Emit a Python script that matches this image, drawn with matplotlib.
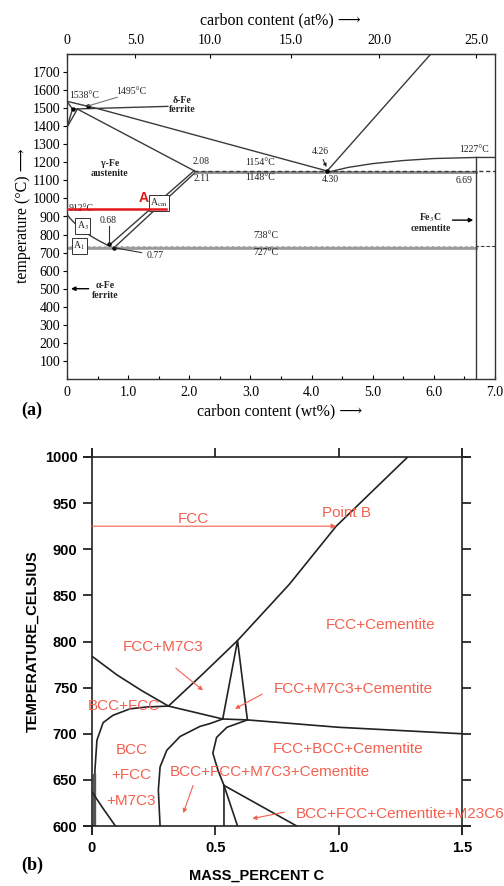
import numpy as np
import matplotlib
matplotlib.use("Agg")
import matplotlib.pyplot as plt

# ---------------- (a) Fe–C phase diagram (wt% C, °C) ----------------
liquidus_wt = [0.0, 0.53, 4.30]
liquidus_T = [1538, 1495, 1148]
solidus_wt = [0.17, 2.11]
solidus_T = [1495, 1148]
delta_sol_wt = [0.0, 0.09]
delta_sol_T = [1538, 1495]
delta_gam_wt = [0.0, 0.09]
delta_gam_T = [1394, 1495]
gam_delta_wt = [0.0, 0.17]
gam_delta_T = [1394, 1495]
peritectic_wt = [0.09, 1.65]
peritectic_T = [1495, 1510]
a3_wt = [0.0, 0.05, 0.1, 0.2, 0.3, 0.4, 0.5, 0.6, 0.68, 0.77]
a3_T = [912, 890, 872, 840, 812, 790, 770, 752, 738, 727]
acm_wt = [2.11, 0.77]
acm_T = [1148, 727]
acm_gr_wt = [2.08, 0.68]
acm_gr_T = [1154, 738]
eutectic_wt = [2.11, 6.69]
eutectic_T = 1148
eutectic_gr_wt = [2.08, 7.0]
eutectic_gr_T = 1154
eutectoid_wt = [0.0, 6.69]
eutectoid_T = 727
eutectoid_gr_wt = [0.0, 7.0]
eutectoid_gr_T = 738
graphite_liq_wt = [4.26, 5.95]
graphite_liq_T = [1154, 1800]
cem_liq_wt = [4.30, 4.6, 5.0, 5.5, 6.0, 6.69, 7.0]
cem_liq_T = [1148, 1172, 1193, 1210, 1221, 1227, 1227]
cementite_wt = 6.69
cementite_T = [0, 1227]
red_line_wt = [0.0, 1.62]
red_line_T = 940

wt_ticks = [0, 1, 2, 3, 4, 5, 6, 7]
wt_labels = ["0", "1.0", "2.0", "3.0", "4.0", "5.0", "6.0", "7.0"]
at_ticks = [0, 5, 10, 15, 20, 25]
at_labels = ["0", "5.0", "10.0", "15.0", "20.0", "25.0"]
T_ticks_a = list(range(100, 1800, 100))

# ---------------- (b) calculated section (mass% C, °C) ----------------
fcc_cem_x = [0.31, 0.45, 0.59, 0.80, 0.99, 1.28]
fcc_cem_T = [730, 765, 801, 862, 925, 1000]
a3b_x = [0.0, 0.1, 0.2, 0.31, 0.53]
a3b_T = [784, 764, 747, 730, 716]
eutectoid_b_x = [0.53, 0.63, 1.0, 1.5]
eutectoid_b_T = [716, 715, 707, 700]
triangle_x = [0.53, 0.59, 0.63]
triangle_T = [716, 801, 715]
bcc_fcc_x = [0.01, 0.01, 0.012, 0.02, 0.045, 0.085, 0.154, 0.22, 0.31]
bcc_fcc_T = [600, 640, 661, 693, 712, 720, 727, 729, 730]
low_left_x = [0.0, 0.045, 0.095]
low_left_T = [637, 619, 600]
middle_x = [0.276, 0.269, 0.276, 0.303, 0.357, 0.438, 0.478, 0.53]
middle_T = [600, 639, 664, 682, 697, 708, 711, 716]
right_x = [0.535, 0.535, 0.51, 0.49, 0.505, 0.547, 0.63]
right_T = [600, 644, 661, 679, 696, 707, 715]
m23_a_x = [0.535, 0.59]
m23_a_T = [644, 600]
m23_b_x = [0.535, 0.83]
m23_b_T = [644, 600]
point_b_x = 0.99
point_b_T = 925

x_ticks_b = [0, 0.5, 1.0, 1.5]
x_labels_b = ["0", "0.5", "1.0", "1.5"]
T_ticks_b = list(range(600, 1001, 50))

SERIF = ["Liberation Serif", "DejaVu Serif"]
SANS = ["Liberation Sans", "DejaVu Sans"]
LC = "#3a3a3a"
RED = "#f4604f"

plt.rcParams["mathtext.fontset"] = "stix"

fig = plt.figure(figsize=(5.04, 8.86), dpi=100)

# ======================= panel (a) =======================
ax = fig.add_axes([67 / 504, 1 - 379 / 886, 428 / 504, 325 / 886])
ax.set_xlim(0, 7.0)
ax.set_ylim(0, 1800)

lw = 1.0
ax.plot(liquidus_wt, liquidus_T, color=LC, lw=lw)
ax.plot(solidus_wt, solidus_T, color=LC, lw=lw)
ax.plot(delta_sol_wt, delta_sol_T, color=LC, lw=lw)
ax.plot(delta_gam_wt, delta_gam_T, color=LC, lw=lw)
ax.plot(gam_delta_wt, gam_delta_T, color=LC, lw=lw)
ax.plot(peritectic_wt, peritectic_T, color=LC, lw=lw)
ax.plot(a3_wt, a3_T, color=LC, lw=lw)
ax.plot(acm_wt, acm_T, color=LC, lw=lw)
ax.plot(acm_gr_wt, acm_gr_T, color=LC, lw=lw)
ax.plot(eutectic_wt, [eutectic_T] * 2, color="#8a8a8a", lw=2.0)
ax.plot(eutectic_gr_wt, [eutectic_gr_T] * 2, color=LC, lw=1.0, ls=(0, (3, 2)))
ax.plot(eutectoid_wt, [eutectoid_T] * 2, color="#9a9a9a", lw=2.6)
ax.plot(eutectoid_gr_wt, [eutectoid_gr_T] * 2, color="#e8e8e8", lw=0.8, ls=(0, (3, 2)))
ax.plot(eutectoid_gr_wt[1:] + [6.69], [eutectoid_gr_T] * 2, color=LC, lw=0.8, ls=(0, (3, 2)))
ax.plot(graphite_liq_wt, graphite_liq_T, color=LC, lw=lw)
ax.plot(cem_liq_wt, cem_liq_T, color=LC, lw=lw)
ax.plot([cementite_wt] * 2, cementite_T, color=LC, lw=lw)
ax.plot(red_line_wt, [red_line_T] * 2, color="#e3171c", lw=1.8, zorder=5)

# small marker dots at invariant points
ax.plot([0.09, 0.34, 0.68, 0.77, 4.26], [1495, 1512, 745, 727, 1154], "o",
        color="k", ms=2.2)

fs_small = 7
tkw = dict(family=SERIF, fontsize=fs_small, color="#222222")
ax.text(0.04, 1572, "1538°C", ha="left", va="center", **tkw)
ax.text(1.05, 1592, "1495°C", ha="center", va="center", **tkw)
ax.plot([0.82, 0.34], [1560, 1512], color="#777777", lw=0.8)
ax.text(1.88, 1520, "δ-Fe\nferrite", ha="center", va="center", fontweight="bold",
        linespacing=1.0, **tkw)
ax.text(0.70, 1165, "γ-Fe\naustenite", ha="center", va="center", fontweight="bold",
        linespacing=1.1, **tkw)
ax.text(0.03, 942, "912°C", ha="left", va="center", **tkw)
box = dict(boxstyle="square,pad=0.15", fc="white", ec="#333333", lw=0.7)
ax.text(0.26, 847, r"A$_3$", ha="center", va="center", bbox=box, **tkw)
ax.text(0.20, 736, r"A$_1$", ha="center", va="center", bbox=box, **tkw)
ax.text(1.50, 975, r"A$_{\rm cm}$", ha="center", va="center", bbox=box, **tkw)
ax.text(1.25, 1000, "A", ha="center", va="center", family=SANS, fontsize=10,
        fontweight="bold", color="#e3171c")
ax.text(0.68, 878, "0.68", ha="center", va="center", **tkw)
ax.plot([0.68, 0.68], [850, 748], color="#333333", lw=0.8)
ax.text(1.45, 684, "0.77", ha="center", va="center", **tkw)
ax.plot([1.22, 0.77], [700, 727], color="#333333", lw=0.8)
ax.text(2.20, 1202, "2.08", ha="center", va="center", **tkw)
ax.text(2.20, 1110, "2.11", ha="center", va="center", **tkw)
ax.text(3.16, 1197, "1154°C", ha="center", va="center", **tkw)
ax.text(3.16, 1116, "1148°C", ha="center", va="center", **tkw)
ax.text(4.15, 1258, "4.26", ha="center", va="center", **tkw)
ax.annotate("", xy=(4.26, 1160), xytext=(4.17, 1230),
            arrowprops=dict(arrowstyle="-|>", color="#222222", lw=0.7,
                            mutation_scale=5))
ax.text(4.31, 1105, "4.30", ha="center", va="center", **tkw)
ax.text(6.49, 1100, "6.69", ha="center", va="center", **tkw)
ax.text(6.66, 1273, "1227°C", ha="center", va="center", **tkw)
ax.text(5.95, 870, "Fe$_3$C\ncementite", ha="center", va="center",
        fontweight="bold", linespacing=1.0, **tkw)
ax.annotate("", xy=(6.69, 880), xytext=(6.26, 880),
            arrowprops=dict(arrowstyle="-|>", color="k", lw=1.0, mutation_scale=6))
ax.text(3.26, 792, "738°C", ha="center", va="center", **tkw)
ax.text(3.26, 703, "727°C", ha="center", va="center", **tkw)
ax.text(0.62, 492, "α-Fe\nferrite", ha="center", va="center", fontweight="bold",
        linespacing=1.1, **tkw)
ax.annotate("", xy=(0.02, 500), xytext=(0.40, 500),
            arrowprops=dict(arrowstyle="-|>", color="k", lw=1.0, mutation_scale=6))

ax.set_xticks(wt_ticks)
ax.set_xticklabels(wt_labels)
ax.set_xticks(np.arange(0.5, 7.0, 1.0), minor=True)
ax.set_yticks(T_ticks_a)
ax.tick_params(axis="x", which="both", direction="in", length=3, width=0.8,
               top=False, pad=5)
ax.tick_params(axis="x", which="minor", length=2)
ax.tick_params(axis="y", direction="out", length=3, width=0.8, right=False, pad=2)
for lab in ax.get_xticklabels() + ax.get_yticklabels():
    lab.set_family(SERIF)
    lab.set_fontsize(10)
for s in ax.spines.values():
    s.set_color("#333333")
    s.set_linewidth(1.0)


def wt_to_at(w):
    w = np.clip(np.asarray(w, dtype=float), 0.0, 99.9)
    c = w / 12.011
    f = (100.0 - w) / 55.845
    return 100.0 * c / (c + f)


def at_to_wt(a):
    a = np.clip(np.asarray(a, dtype=float), 0.0, 99.9)
    c = a * 12.011
    f = (100.0 - a) * 55.845
    return 100.0 * c / (c + f)


sec = ax.secondary_xaxis("top", functions=(wt_to_at, at_to_wt))
sec.set_xticks(at_ticks)
sec.set_xticklabels(at_labels)
sec.tick_params(direction="in", length=3, width=0.8, pad=5)
for lab in sec.get_xticklabels():
    lab.set_family(SERIF)
    lab.set_fontsize(10)
sec.spines["top"].set_color("#333333")

fig.text(280 / 504, 1 - 20 / 886, "carbon content (at%) ⟶", ha="center", va="center",
         family=SERIF + ["DejaVu Sans"], fontsize=11.5)
fig.text(280 / 504, 1 - 411 / 886, "carbon content (wt%) ⟶", ha="center", va="center",
         family=SERIF + ["DejaVu Sans"], fontsize=11.5)
fig.text(23 / 504, 1 - 216 / 886, "temperature (°C) ⟶", ha="center", va="center",
         rotation=90, family=SERIF + ["DejaVu Sans"], fontsize=11.5)
fig.text(32 / 504, 1 - 410 / 886, "(a)", ha="center", va="center",
         family=SERIF, fontsize=13, fontweight="bold")

# ======================= panel (b) =======================
bx = fig.add_axes([92 / 504, 1 - 826 / 886, 370 / 504, 369 / 886])
bx.set_xlim(0, 1.5)
bx.set_ylim(600, 1000)

blw = 1.2
BC = "#222222"
bx.plot(fcc_cem_x, fcc_cem_T, color=BC, lw=blw)
bx.plot(a3b_x, a3b_T, color=BC, lw=blw)
bx.plot(eutectoid_b_x, eutectoid_b_T, color=BC, lw=blw)
bx.plot(triangle_x, triangle_T, color=BC, lw=blw)
bx.plot(bcc_fcc_x, bcc_fcc_T, color=BC, lw=blw)
bx.plot([0.01, 0.01], [600, 655], color="#555555", lw=2.4)
bx.plot(low_left_x, low_left_T, color=BC, lw=blw)
bx.plot(middle_x, middle_T, color=BC, lw=blw)
bx.plot(right_x, right_T, color=BC, lw=blw)
bx.plot(m23_a_x, m23_a_T, color=BC, lw=blw)
bx.plot(m23_b_x, m23_b_T, color=BC, lw=blw)

# isothermal path to point B
bx.annotate("", xy=(point_b_x, point_b_T), xytext=(0.0, point_b_T),
            arrowprops=dict(arrowstyle="-|>", color=RED, lw=0.8, mutation_scale=7,
                            shrinkA=0, shrinkB=0))

rkw = dict(family=SANS, fontsize=11, color=RED, ha="center", va="center")
bx.text(0.41, 933, "FCC", **rkw)
bx.text(1.03, 939, "Point B", **rkw)
bx.text(1.17, 818, "FCC+Cementite", **rkw)
bx.text(0.29, 794, "FCC+M7C3", **rkw)
bx.text(1.06, 748, "FCC+M7C3+Cementite", **rkw)
bx.text(0.13, 730, "BCC+FCC", **rkw)
bx.text(0.16, 682, "BCC", **rkw)
bx.text(0.16, 655, "+FCC", **rkw)
bx.text(0.16, 627, "+M7C3", **rkw)
bx.text(1.04, 684, "FCC+BCC+Cementite", **rkw)
bx.text(0.72, 658, "BCC+FCC+M7C3+Cementite", **rkw)
bx.text(1.25, 613, "BCC+FCC+Cementite+M23C6", clip_on=False, **rkw)

akw = dict(arrowstyle="-|>", color=RED, lw=0.8, mutation_scale=6,
           shrinkA=0, shrinkB=0)
bx.annotate("", xy=(0.45, 747), xytext=(0.34, 771), arrowprops=akw)
bx.annotate("", xy=(0.58, 727), xytext=(0.69, 743), arrowprops=akw)
bx.annotate("", xy=(0.37, 614), xytext=(0.41, 644), arrowprops=akw)
bx.annotate("", xy=(0.65, 608), xytext=(0.78, 615), arrowprops=akw)

bx.set_xticks(x_ticks_b)
bx.set_xticklabels(x_labels_b)
bx.set_yticks(T_ticks_b)
bx.tick_params(direction="out", length=6.5, width=1.1, top=True, right=True,
               labeltop=False, labelright=False, pad=4)
for lab in bx.get_xticklabels() + bx.get_yticklabels():
    lab.set_family(SANS)
    lab.set_fontsize(10.5)
    lab.set_fontweight("bold")
for s in bx.spines.values():
    s.set_visible(False)
# frame lines that run slightly past the corners
ext = 0.022
fkw = dict(color="#222222", lw=1.2, transform=bx.transAxes, clip_on=False)
bx.plot([-ext, 1 + ext], [0, 0], **fkw)
bx.plot([-ext, 1 + ext], [1, 1], **fkw)
bx.plot([0, 0], [-ext, 1 + ext], **fkw)
bx.plot([1, 1], [-ext, 1 + ext], **fkw)

fig.text(257 / 504, 1 - 876 / 886, "MASS_PERCENT C", ha="center", va="center",
         family=SANS, fontsize=10.5, fontweight="bold")
fig.text(33 / 504, 1 - 641 / 886, "TEMPERATURE_CELSIUS", ha="center", va="center",
         rotation=90, family=SANS, fontsize=10.5, fontweight="bold")
fig.text(32 / 504, 1 - 865 / 886, "(b)", ha="center", va="center",
         family=SERIF, fontsize=13, fontweight="bold")

fig.savefig("out.png", dpi=100)
